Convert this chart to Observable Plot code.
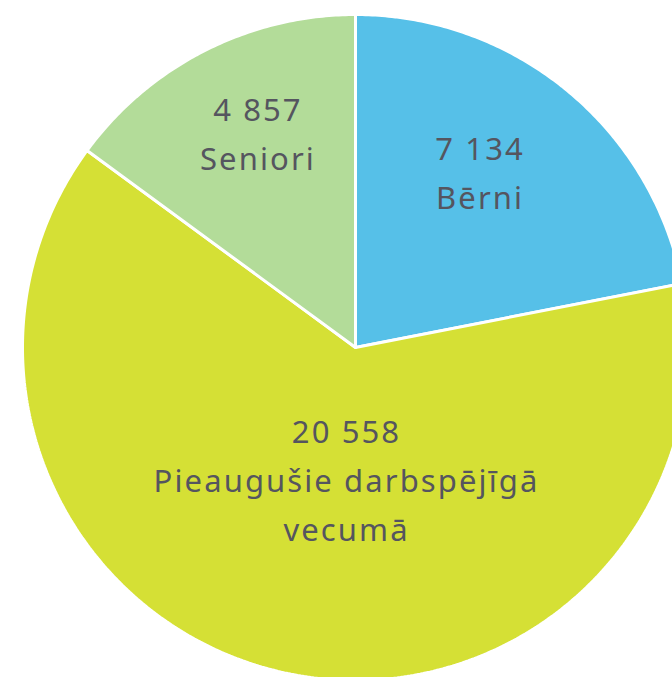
<!DOCTYPE html>
<html>
<head>
<meta charset="utf-8">
<script src="https://cdn.jsdelivr.net/npm/d3@7"></script>
<script src="https://cdn.jsdelivr.net/npm/@observablehq/plot@0.6"></script>
<style>
  html, body { margin: 0; padding: 0; background: #fff; }
  #chart { width: 672px; height: 677px; overflow: hidden; }
</style>
</head>
<body>
<div id="chart"></div>
<script>
// Data
const categories = ["Bērni", "Pieaugušie darbspējīgā vecumā", "Seniori"];
const values = [7134, 20558, 4857];
const labelLines = [["7 134", "Bērni"], ["20 558", "Pieaugušie darbspējīgā", "vecumā"], ["4 857", "Seniori"]];

// Styles / layout
const colors = ["#56c0e8", "#d5e035", "#b3dc99"];
const cx = 355, cy = 347, R = 333;
// label anchor: [radius fraction, angle offset (rad)]
const labelLayout = [[0.64, -0.064], [0.405, -0.153], [0.70, 0.037]];

const pie = d3.pie().sort(null).value(d => d.value)(
  categories.map((c, i) => ({category: c, value: values[i], i}))
);

// polygon points for each slice (angle 0 = top, clockwise)
const polys = [];
pie.forEach(a => {
  const n = Math.max(2, Math.ceil((a.endAngle - a.startAngle) / 0.01));
  polys.push({category: a.data.category, x: 0, y: 0});
  for (let k = 0; k <= n; k++) {
    const t = a.startAngle + (a.endAngle - a.startAngle) * k / n;
    polys.push({category: a.data.category, x: Math.sin(t), y: Math.cos(t)});
  }
  polys.push({category: a.data.category, x: 0, y: 0});
});

const labels = [];
pie.forEach((a, i) => {
  const [rf, off] = labelLayout[i];
  const m = (a.startAngle + a.endAngle) / 2 + off;
  labels.push({category: a.data.category, x: rf * Math.sin(m), y: rf * Math.cos(m), text: labelLines[i].join("\n")});
});

const plot = Plot.plot({
  width: 672,
  height: 677,
  margin: 0,
  style: {background: "#fff", fontFamily: "Noto Sans, sans-serif"},
  x: {domain: [-1, 1], range: [cx - R, cx + R], axis: null},
  y: {domain: [-1, 1], range: [cy + R, cy - R], axis: null},
  color: {domain: categories, range: colors},
  marks: [
    Plot.line(polys, {x: "x", y: "y", z: "category", fill: "category", stroke: "#fff", strokeWidth: 3, strokeLinejoin: "miter", curve: "linear"}),
    Plot.text(labels, {x: "x", y: "y", dy: -6, text: "text", fill: "#55555f", fontSize: 31, lineHeight: 1.58, textAnchor: "middle"})
  ]
});
plot.querySelectorAll("text").forEach(t => t.style.letterSpacing = "2.1px");
document.getElementById("chart").appendChild(plot);
</script>
</body>
</html>
